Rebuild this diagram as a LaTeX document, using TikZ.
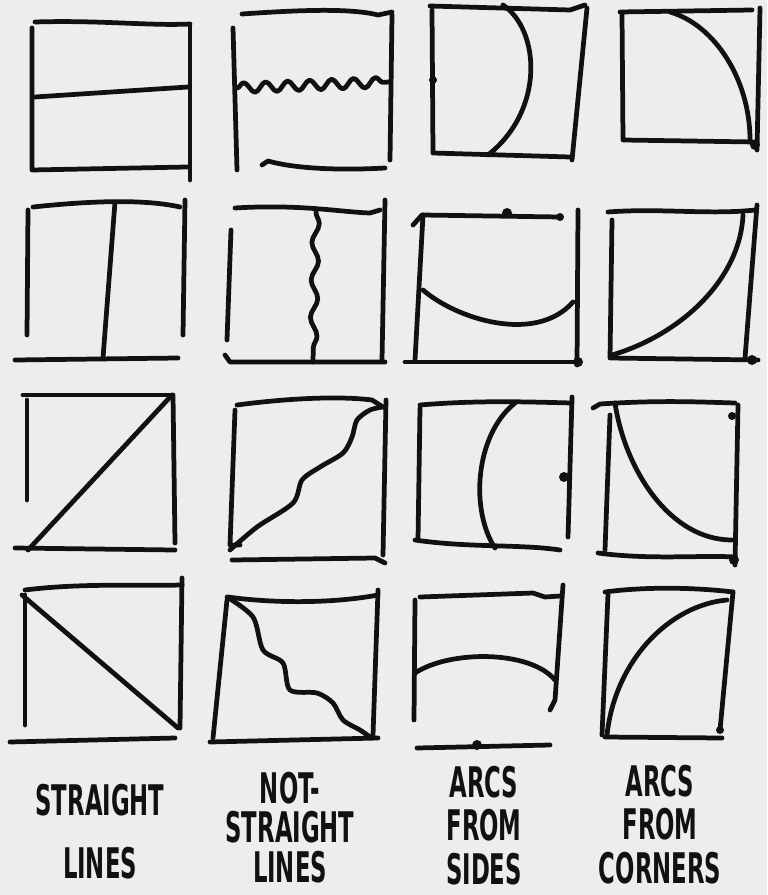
\documentclass[tikz,border=0pt]{standalone}
\usepackage{fontspec}
\newfontfamily\handfont{DejaVu Sans}[FakeStretch=0.54]
\usetikzlibrary{positioning,decorations.pathmorphing}
\definecolor{paper}{HTML}{EDEDED}
\definecolor{ink}{HTML}{111111}

\begin{document}
\begin{tikzpicture}[
    x=0.02cm, y=-0.02cm,
    pen/.style={ink, line width=2.7pt, line cap=round, line join=round},
    wave/.style={pen, decorate, decoration={snake, segment length=0.44cm, amplitude=0.1cm}},
    ripple/.style={pen, decorate, decoration={snake, segment length=0.75cm, amplitude=0.07cm}},
    caption/.style={text=ink, font=\handfont\bfseries\fontsize{24}{28}\selectfont, inner sep=0pt},
]
\fill[paper] (0,0) rectangle (767,895);
\useasboundingbox (0,0) rectangle (767,895);

% straight lines
\draw[pen] (35,22) .. controls (100,20) and (150,26) .. (190,24);
\draw[pen] (32,28) -- (32,170) -- (187,167);
\draw[pen] (190,25) -- (190,180);
\draw[pen] (35,97) -- (188,87);

\draw[pen] (33,207) .. controls (80,202) and (140,198) .. (180,207);
\draw[pen] (28,210) -- (27,335);
\draw[pen] (185,200) -- (183,335);
\draw[pen] (15,360) -- (178,358);
\draw[pen] (115,202) -- (103,358);

\draw[pen] (23,395) -- (172,395);
\draw[pen] (27,400) -- (27,500);
\draw[pen] (173,395) -- (175,543);
\draw[pen] (15,548) -- (175,550);
\draw[pen] (28,550) -- (172,395);

\draw[pen] (25,590) .. controls (80,583) and (140,586) .. (182,585);
\draw[pen] (25,595) -- (25,725);
\draw[pen] (182,578) -- (180,728);
\draw[pen] (10,742) -- (175,738);
\draw[pen] (22,595) -- (178,728);

% not-straight lines
\draw[pen] (242,14) .. controls (300,10) and (350,8) .. (378,15) -- (392,12);
\draw[pen] (233,28) -- (237,170);
\draw[pen] (392,15) -- (390,160);
\draw[pen] (262,165) -- (268,161) .. controls (300,170) and (350,170) .. (385,168);
\draw[wave] (237,88) -- (390,82);

\draw[pen] (235,208) .. controls (300,204) and (340,212) .. (370,213) -- (380,210);
\draw[pen] (231,230) -- (227,340);
\draw[pen] (385,200) -- (382,360);
\draw[pen] (225,355) -- (230,362) -- (385,362);
\draw[ripple] (316,212) -- (313,362);

\draw[pen] (237,405) .. controls (290,398) and (340,396) .. (372,400) -- (383,407);
\draw[pen] (235,410) -- (230,545) -- (240,545);
\draw[pen] (386,400) -- (383,555);
\draw[pen] (232,560) -- (375,558) -- (385,563);
\draw[pen] plot[smooth] coordinates {(230,550) (257,527) (293,503) (302,480) (320,467) (343,453) (352,437) (357,420) (370,410) (383,407)};

\draw[pen] (228,597) .. controls (270,603) and (330,604) .. (378,595);
\draw[pen] (227,600) -- (213,738);
\draw[pen] (378,590) -- (373,735);
\draw[pen] (210,742) -- (378,738);
\draw[pen] plot[smooth] coordinates {(227,597) (253,617) (263,650) (283,663) (290,690) (317,693) (333,703) (343,720) (360,730) (370,737)};

% arcs from sides
\draw[pen] (430,6) -- (570,10) -- (585,5);
\draw[pen] (432,10) -- (433,153) -- (570,157);
\draw[pen] (587,8) -- (572,160);
\draw[pen] (503,5) .. controls (540,30) and (545,110) .. (488,155);
\fill[ink] (433,80) circle (4);

\draw[pen] (413,225) -- (422,215) -- (560,217);
\draw[pen] (423,215) -- (415,360);
\draw[pen] (578,210) -- (577,365);
\draw[pen] (405,362) -- (580,362);
\draw[pen] (423,290) .. controls (455,318) and (535,345) .. (573,302);
\fill[ink] (507,213) circle (5);
\fill[ink] (560,217) circle (4);
\fill[ink] (578,362) circle (5);

\draw[pen] (420,405) .. controls (480,400) and (530,402) .. (572,403);
\draw[pen] (420,408) -- (418,540);
\draw[pen] (572,397) -- (568,537);
\draw[pen] (415,540) .. controls (470,548) and (520,544) .. (560,550);
\draw[pen] (515,403) .. controls (475,435) and (470,510) .. (495,548);
\fill[ink] (564,477) circle (5);

\draw[pen] (420,597) -- (533,593) -- (545,597) -- (560,596);
\draw[pen] (415,600) -- (414,720);
\draw[pen] (563,585) -- (555,700) -- (550,710);
\draw[pen] (417,748) -- (550,745);
\draw[pen] (415,673) .. controls (450,650) and (530,650) .. (555,680);
\fill[ink] (477,745) circle (5);

% arcs from corners
\draw[pen] (620,12) -- (752,10);
\draw[pen] (622,14) -- (623,140) -- (755,142);
\draw[pen] (760,8) -- (757,150);
\draw[pen] (670,12) .. controls (715,25) and (750,80) .. (750,140);
\fill[ink] (755,145) circle (5);

\draw[pen] (608,212) .. controls (660,208) and (710,215) .. (755,210);
\draw[pen] (612,220) -- (610,358) -- (758,360);
\draw[pen] (757,205) -- (745,358);
\draw[pen] (612,355) .. controls (680,335) and (740,280) .. (743,215);
\fill[ink] (752,360) circle (5);

\draw[pen] (593,408) -- (600,404) .. controls (660,400) and (700,402) .. (735,403);
\draw[pen] (610,415) -- (605,550);
\draw[pen] (738,405) -- (735,565);
\draw[pen] (598,553) .. controls (650,560) and (700,555) .. (735,557);
\draw[pen] (615,403) .. controls (625,470) and (670,540) .. (732,540);
\fill[ink] (732,416) circle (4);
\fill[ink] (734,560) circle (5);

\draw[pen] (605,592) .. controls (650,586) and (700,588) .. (733,592);
\draw[pen] (608,594) -- (602,735);
\draw[pen] (733,592) -- (720,730);
\draw[pen] (605,737) -- (722,738);
\draw[pen] (607,735) .. controls (615,660) and (670,605) .. (727,600);
\fill[ink] (720,730) circle (4);

% captions
\node[caption] (straight1) at (100,800) {STRAIGHT};
\node[caption, below=0.62cm of straight1] (straight2) {LINES};

\node[caption] (curly1) at (290,788) {NOT-};
\node[caption, below=0.14cm of curly1] (curly2) {STRAIGHT};
\node[caption, below=0.14cm of curly2] (curly3) {LINES};

\node[caption] (sides1) at (484,782) {ARCS};
\node[caption, below=0.22cm of sides1] (sides2) {FROM};
\node[caption, below=0.22cm of sides2] (sides3) {SIDES};

\node[caption] (corners1) at (660,781) {ARCS};
\node[caption, below=0.22cm of corners1] (corners2) {FROM};
\node[caption, below=0.22cm of corners2] (corners3) {CORNERS};
\end{tikzpicture}
\end{document}
